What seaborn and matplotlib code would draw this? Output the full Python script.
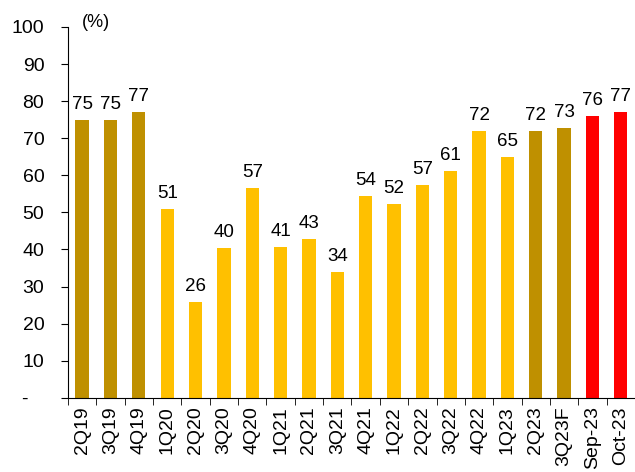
import matplotlib
matplotlib.use("Agg")
import matplotlib.pyplot as plt
import seaborn as sns
import pandas as pd
from matplotlib.ticker import FixedLocator

periods = ['2Q19', '3Q19', '4Q19', '1Q20', '2Q20', '3Q20', '4Q20', '1Q21', '2Q21', '3Q21',
           '4Q21', '1Q22', '2Q22', '3Q22', '4Q22', '1Q23', '2Q23', '3Q23F', 'Sep-23', 'Oct-23']
values = [75.0, 75.0, 77.1, 50.9, 25.9, 40.4, 56.6, 40.7, 42.9, 34.0,
          54.4, 52.3, 57.4, 61.2, 72.0, 65.0, 72.0, 72.8, 76.0, 77.1]
groups = ['dark', 'dark', 'dark', 'light', 'light', 'light', 'light', 'light', 'light', 'light',
          'light', 'light', 'light', 'light', 'light', 'light', 'dark', 'dark', 'red', 'red']
group_colors = {'dark': '#BF9000', 'light': '#FFC000', 'red': '#FF0000'}

df = pd.DataFrame({'Period': periods, 'Value': values, 'Group': groups})

plt.rcParams['font.family'] = ['Liberation Sans', 'DejaVu Sans']

fig = plt.figure(figsize=(6.35, 4.72), dpi=100)
ax = fig.add_axes([0.107, 0.157, 0.893, 0.786])

sns.barplot(data=df, x='Period', y='Value', hue='Group', palette=group_colors,
            dodge=False, width=0.47, legend=False, ax=ax, saturation=1)

# value labels
for i, v in enumerate(values):
    ax.text(i, v + 1.8, f'{round(v)}', ha='center', va='bottom', fontsize=13.5)

ax.set_ylim(0, 100)
ax.set_xlim(-0.5, len(periods) - 0.5)
ax.set_yticks(range(0, 101, 10))
ax.set_yticklabels(['-   '] + [str(t) for t in range(10, 101, 10)], fontsize=14)
ax.tick_params(axis='y', direction='out', length=5, pad=12)

# x ticks at category boundaries
ax.set_xticks(range(len(periods)))
ax.set_xticklabels(periods, rotation=90, fontsize=14)
ax.tick_params(axis='x', which='major', length=0, pad=6)
ax.xaxis.set_minor_locator(FixedLocator([i - 0.5 for i in range(len(periods) + 1)]))
ax.tick_params(axis='x', which='minor', direction='out', length=5)

ax.set_xlabel('')
ax.set_ylabel('')
ax.spines['top'].set_visible(False)
ax.spines['right'].set_visible(False)

ax.text(0.025, 1.012, '(%)', transform=ax.transAxes, fontsize=13, ha='left', va='center')

fig.savefig('out.png', dpi=100)
plt.close()
